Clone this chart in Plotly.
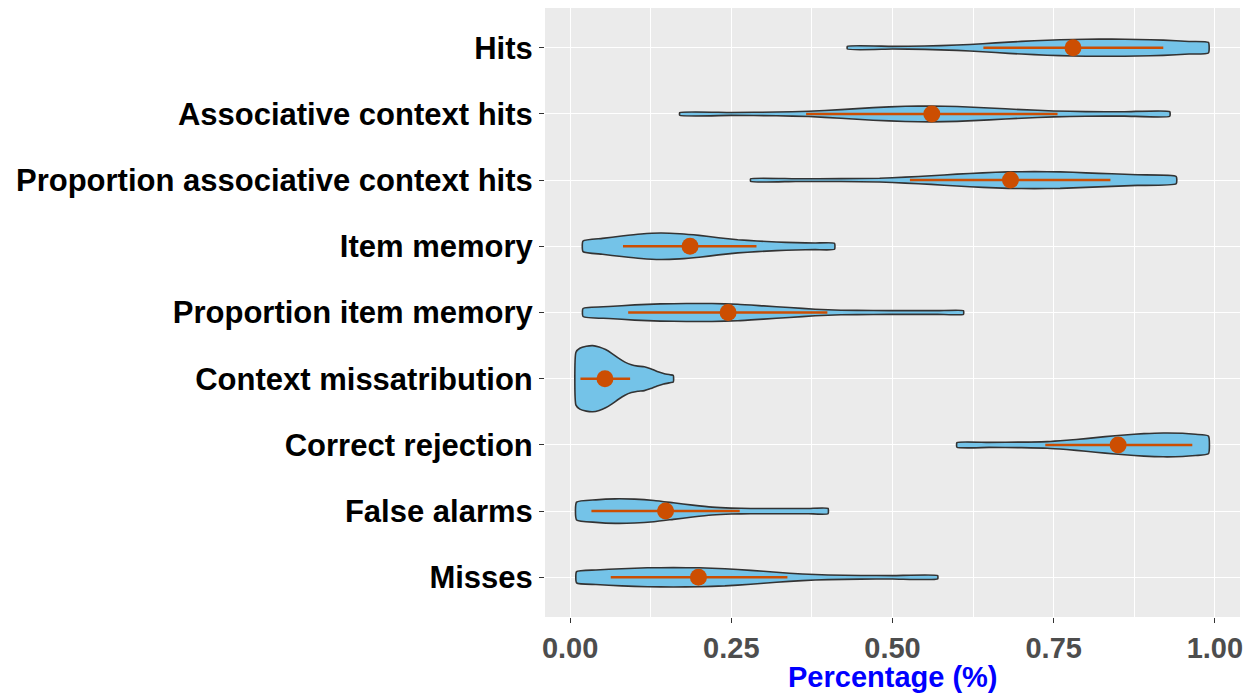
import plotly.graph_objects as go

categories = ["Hits", "Associative context hits", "Proportion associative context hits",
              "Item memory", "Proportion item memory", "Context missatribution",
              "Correct rejection", "False alarms", "Misses"]

# violin outlines: x grid and half-width (in category units)
dens_x = {
    "Hits": [0.43, 0.50, 0.55, 0.60, 0.64, 0.68, 0.72, 0.76, 0.80, 0.84, 0.88, 0.92, 0.96, 0.99],
    "Associative context hits": [0.17, 0.25, 0.32, 0.37, 0.42, 0.47, 0.52, 0.56, 0.60, 0.65, 0.70, 0.75, 0.80, 0.86, 0.93],
    "Proportion associative context hits": [0.28, 0.35, 0.42, 0.48, 0.52, 0.56, 0.60, 0.64, 0.68, 0.72, 0.76, 0.80, 0.84, 0.88, 0.94],
    "Item memory": [0.02, 0.05, 0.08, 0.11, 0.14, 0.17, 0.20, 0.23, 0.26, 0.29, 0.32, 0.35, 0.38, 0.41],
    "Proportion item memory": [0.02, 0.06, 0.10, 0.14, 0.18, 0.22, 0.26, 0.30, 0.34, 0.38, 0.42, 0.47, 0.52, 0.57, 0.61],
    "Context missatribution": [0.009, 0.015, 0.025, 0.035, 0.045, 0.055, 0.065, 0.075, 0.085, 0.095, 0.105, 0.115, 0.125, 0.135, 0.145, 0.155, 0.16],
    "Correct rejection": [0.60, 0.65, 0.70, 0.74, 0.77, 0.80, 0.83, 0.86, 0.89, 0.92, 0.95, 0.97, 0.99],
    "False alarms": [0.01, 0.04, 0.07, 0.10, 0.13, 0.16, 0.19, 0.22, 0.25, 0.28, 0.31, 0.34, 0.37, 0.40],
    "Misses": [0.01, 0.04, 0.08, 0.12, 0.16, 0.20, 0.24, 0.28, 0.32, 0.36, 0.40, 0.45, 0.50, 0.57],
}
dens_w = {
    "Hits": [0.02, 0.02, 0.025, 0.04, 0.06, 0.085, 0.105, 0.12, 0.128, 0.13, 0.125, 0.115, 0.095, 0.08],
    "Associative context hits": [0.02, 0.022, 0.028, 0.04, 0.065, 0.095, 0.115, 0.12, 0.112, 0.09, 0.065, 0.045, 0.035, 0.033, 0.035],
    "Proportion associative context hits": [0.02, 0.02, 0.022, 0.028, 0.045, 0.065, 0.09, 0.11, 0.125, 0.128, 0.125, 0.11, 0.095, 0.08, 0.055],
    "Item memory": [0.08, 0.12, 0.155, 0.185, 0.2, 0.19, 0.165, 0.13, 0.1, 0.08, 0.065, 0.055, 0.05, 0.045],
    "Proportion item memory": [0.06, 0.09, 0.115, 0.13, 0.135, 0.135, 0.125, 0.1, 0.075, 0.05, 0.035, 0.03, 0.028, 0.028, 0.028],
    "Context missatribution": [0.40, 0.46, 0.49, 0.50, 0.48, 0.44, 0.38, 0.31, 0.25, 0.21, 0.19, 0.18, 0.15, 0.11, 0.08, 0.06, 0.05],
    "Correct rejection": [0.035, 0.038, 0.042, 0.05, 0.07, 0.095, 0.125, 0.15, 0.17, 0.18, 0.175, 0.16, 0.135],
    "False alarms": [0.135, 0.17, 0.185, 0.18, 0.16, 0.125, 0.09, 0.06, 0.045, 0.04, 0.04, 0.04, 0.04, 0.04],
    "Misses": [0.085, 0.11, 0.13, 0.143, 0.146, 0.143, 0.13, 0.105, 0.075, 0.05, 0.035, 0.028, 0.025, 0.025],
}

means = [0.78, 0.561, 0.683, 0.186, 0.245, 0.054, 0.85, 0.148, 0.199]
sd_low = [0.641, 0.366, 0.527, 0.082, 0.09, 0.016, 0.737, 0.033, 0.063]
sd_high = [0.92, 0.756, 0.838, 0.289, 0.399, 0.093, 0.965, 0.263, 0.337]

x_ticks = [0, 0.25, 0.5, 0.75, 1.0]
x_ticklabels = ["0.00", "0.25", "0.50", "0.75", "1.00"]
x_title = "Percentage (%)"

FILL = "#74C3E8"
PT = "#CC4E02"
n = len(categories)
ypos = [n - 1 - i for i in range(n)]

fig = go.Figure()
for i, cat in enumerate(categories):
    xs = dens_x[cat]
    ws = dens_w[cat]
    y0 = ypos[i]
    px = xs + xs[::-1] + [xs[0]]
    py = [y0 + w for w in ws] + [y0 - w for w in ws[::-1]] + [y0 + ws[0]]
    fig.add_trace(go.Scatter(x=px, y=py, mode="lines", fill="toself", fillcolor=FILL,
                             line=dict(color="#333333", width=1.6, shape="spline", smoothing=0.5),
                             hoverinfo="skip", showlegend=False))
for i, cat in enumerate(categories):
    y0 = ypos[i]
    fig.add_trace(go.Scatter(x=[sd_low[i], sd_high[i]], y=[y0, y0], mode="lines",
                             line=dict(color=PT, width=2.5), showlegend=False, hoverinfo="skip"))
    fig.add_trace(go.Scatter(x=[means[i]], y=[y0], mode="markers",
                             marker=dict(color=PT, size=17, line=dict(width=0)),
                             showlegend=False, name=cat))

# page body has an 8px margin, so the figure is sized to sit inside the window
fig.update_layout(
    width=1244, height=688,
    margin=dict(l=537, r=12, t=0, b=79),
    paper_bgcolor="white", plot_bgcolor="#EBEBEB",
    font=dict(family="Liberation Sans, Arial, sans-serif"),
    showlegend=False,
)
fig.add_annotation(text=x_title, xref="paper", yref="paper", x=0.5, y=0,
                   xanchor="center", yanchor="top", yshift=-43, showarrow=False,
                   borderpad=0,
                   font=dict(size=29, color="#0000FF", weight="bold"))
fig.update_xaxes(
    range=[-0.039, 1.039], tickvals=x_ticks, ticktext=x_ticklabels,
    showgrid=True, gridcolor="white", gridwidth=1.4, zeroline=False,
    minor=dict(tickvals=[0.125, 0.375, 0.625, 0.875], showgrid=True, gridcolor="white", gridwidth=0.7),
    ticks="outside", ticklen=5, tickcolor="#333333", tickwidth=1.2,
    tickfont=dict(size=29, color="#4D4D4D", weight="bold"),
    showline=False, automargin=False,
)
fig.update_yaxes(
    range=[-0.6, n - 1 + 0.6], tickvals=ypos, ticktext=categories,
    showgrid=True, gridcolor="white", gridwidth=1.4, zeroline=False,
    ticks="outside", ticklen=5, tickcolor="#333333", tickwidth=1.2,
    tickfont=dict(size=31, color="black", weight="bold"),
    showline=False, automargin=False,
)

fig.write_html("out.html")
